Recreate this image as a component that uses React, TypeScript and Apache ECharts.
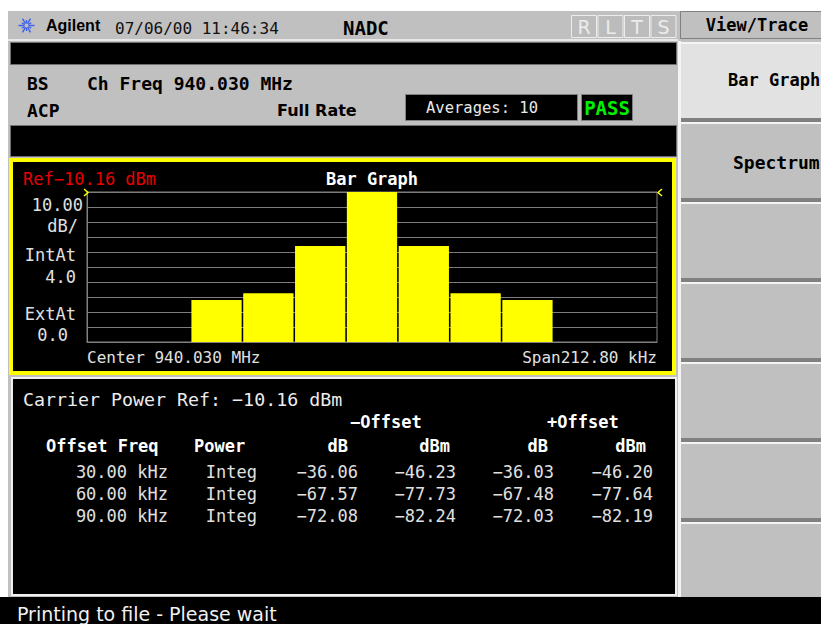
import React, { useEffect, useRef } from "react";
import * as echarts from "echarts";

// ---- data ----
const carrierRefDbm = -10.16;
const dbPerDiv = 10;
const divisions = 10;
const offsetCategories = ["-150", "-120", "-90", "-60", "-30", "0", "30", "60", "90", "120", "150"];
const offsetFreqLabels = ["30.00 kHz", "60.00 kHz", "90.00 kHz"];
const powerModes = ["Integ", "Integ", "Integ"];
const negOffsetDb = [-36.06, -67.57, -72.08];
const negOffsetDbm = [-46.23, -77.73, -82.24];
const posOffsetDb = [-36.03, -67.48, -72.03];
const posOffsetDbm = [-46.2, -77.64, -82.19];
const yTickLabels = ["10.00", "dB/", "IntAt", "4.0", "ExtAt", "0.0"];

const MONO = '"DejaVu Sans Mono", monospace';
const SANS = '"DejaVu Sans", sans-serif';

function txt(text: string, x: number, y: number, font: string, fill: string, align = "left") {
  return {
    type: "text",
    x,
    y,
    z: 10,
    silent: true,
    style: { text, font, fill, align, verticalAlign: "middle" },
  };
}
function rect(x: number, y: number, w: number, h: number, style: any, z = -5) {
  return { type: "rect", z, silent: true, shape: { x, y, width: w, height: h }, style };
}
const fmt = (v: number) => v.toFixed(2).replace("-", "\u2212");

export default function App() {
  const ref = useRef<HTMLDivElement>(null);
  useEffect(() => {
    if (!ref.current) return;
    const chart = echarts.init(ref.current, null, { renderer: "svg" });
    const bottomDbm = carrierRefDbm - dbPerDiv * divisions;
    const barDbm: (number | null)[] = [
      null,
      null,
      ...[...negOffsetDbm].reverse(),
      carrierRefDbm,
      ...posOffsetDbm,
      null,
      null,
    ];
    const barHeights = barDbm.map((v) => (v == null ? null : +(v - bottomDbm).toFixed(2)));

    const g: any[] = [];
    // backgrounds
    g.push(rect(8, 11, 813, 586, { fill: "#c0c0c0" }, -9));
    g.push(rect(8, 39, 670, 2, { fill: "#e8e8e8" }, -8));
    g.push(rect(10.5, 42.5, 666, 22, { fill: "#000", stroke: "#707070", lineWidth: 1 }, -7));
    g.push(rect(10.5, 125.5, 666, 31, { fill: "#000", stroke: "#707070", lineWidth: 1 }, -7));
    g.push(rect(11, 160, 663, 213, { fill: "#000", stroke: "#ffff00", lineWidth: 4 }, -7));
    g.push(rect(12, 378, 664, 217, { fill: "#000", stroke: "#f0f0f0", lineWidth: 2 }, -7));
    g.push(rect(0, 597, 821, 27, { fill: "#000" }, -6));
    // softkey column
    g.push(rect(678, 41, 3, 556, { fill: "#f4f4f4" }, -8));
    g.push(rect(680.5, 11.5, 141, 27, { fill: "#c0c0c0", stroke: "#808080", lineWidth: 1 }, -7));
    for (let i = 0; i < 7; i++) {
      const top = 44 + i * 80;
      g.push(rect(681, top - 2, 140, 2, { fill: "#f4f4f4" }, -7));
      g.push(rect(681, top, 140, 74, { fill: i === 0 ? "#e2e2e2" : "#c0c0c0" }, -7));
      g.push(rect(681, top + 74, 140, 5, { fill: "#808080" }, -7));
    }
    // Averages and PASS boxes
    g.push(rect(405.5, 94.5, 172, 26, { fill: "#000", stroke: "#808080", lineWidth: 1 }, -6));
    g.push(rect(581.5, 94.5, 51, 26, { fill: "#000", stroke: "#808080", lineWidth: 1 }, -6));
    // RLTS boxes
    ["R", "L", "T", "S"].forEach((s, i) => {
      const x0 = 571 + i * 26.5;
      g.push(rect(x0 + 0.5, 15.5, 25, 22, { fill: "#bcbcbc", stroke: "#ececec", lineWidth: 1 }, -6));
      g.push(txt(s, x0 + 13, 27, `19px ${SANS}`, "#ececec", "center"));
    });
    // Agilent starburst
    for (let k = 0; k < 12; k++) {
      const a = (k * Math.PI) / 6;
      const r = k % 2 === 0 ? 8 : 5.5;
      g.push({
        type: "line",
        z: 5,
        silent: true,
        shape: { x1: 26.5 + Math.cos(a) * 2, y1: 25.5 + Math.sin(a) * 2, x2: 26.5 + Math.cos(a) * r, y2: 25.5 + Math.sin(a) * r },
        style: { stroke: "#3a5cf0", lineWidth: 1.4 },
      });
    }
    // top band texts
    g.push(txt("Agilent", 46, 25, `bold 16px "Liberation Sans", sans-serif`, "#000"));
    g.push(txt("07/06/00 11:46:34", 115, 28, `16px ${MONO}`, "#111"));
    g.push(txt("NADC", 343, 28, `bold 19px ${MONO}`, "#000"));
    g.push(txt("View/Trace", 757, 25, `bold 17px ${MONO}`, "#000", "center"));
    // info texts
    g.push(txt("BS", 27, 83, `bold 18px ${MONO}`, "#000"));
    g.push(txt("Ch Freq 940.030 MHz", 87, 83, `bold 18px ${MONO}`, "#000"));
    g.push(txt("ACP", 27, 110, `bold 18px ${MONO}`, "#000"));
    g.push(txt("Full Rate", 277, 110, `bold 16px ${SANS}`, "#000"));
    g.push(txt("Averages: 10", 482, 108, `15.5px ${MONO}`, "#e8e8e8", "center"));
    g.push(txt("PASS", 607, 108, `bold 19px ${MONO}`, "#00f000", "center"));
    // softkey labels
    g.push(txt("Bar Graph", 728, 80, `bold 17px ${MONO}`, "#000"));
    g.push(txt("Spectrum", 733, 162, `bold 18px ${MONO}`, "#000"));
    // chart area texts
    g.push(txt(`Ref${fmt(carrierRefDbm)} dBm`, 23, 179, `17px ${MONO}`, "#e80000"));
    g.push(txt("Bar Graph", 372, 179, `bold 17px ${MONO}`, "#ffffff", "center"));
    const yl = [
      [83, 205],
      [78, 226],
      [76, 255],
      [76, 277],
      [76, 314],
      [68, 335],
    ];
    yTickLabels.forEach((s, i) => g.push(txt(s, yl[i][0], yl[i][1], `17px ${MONO}`, "#e0e0e0", "right")));
    g.push(txt("Center 940.030 MHz", 87, 357, `16px ${MONO}`, "#e0e0e0"));
    g.push(txt("Span212.80 kHz", 657, 357, `16px ${MONO}`, "#e0e0e0", "right"));
    // chevrons
    g.push({ type: "polyline", z: 10, silent: true, shape: { points: [[84, 189], [88, 192.5], [84, 196]] }, style: { stroke: "#ffff00", lineWidth: 1.5, fill: null } });
    g.push({ type: "polyline", z: 10, silent: true, shape: { points: [[662, 189], [658, 192.5], [662, 196]] }, style: { stroke: "#ffff00", lineWidth: 1.5, fill: null } });
    // table texts
    g.push(txt(`Carrier Power Ref: ${fmt(carrierRefDbm)} dBm`, 23, 399, `18.3px ${MONO}`, "#ececec"));
    g.push(txt("\u2212Offset", 350, 422, `bold 17px ${MONO}`, "#ffffff"));
    g.push(txt("+Offset", 547, 422, `bold 17px ${MONO}`, "#ffffff"));
    g.push(txt("Offset Freq", 46, 446, `bold 17px ${MONO}`, "#ffffff"));
    g.push(txt("Power", 194, 446, `bold 17px ${MONO}`, "#ffffff"));
    g.push(txt("dB", 348, 446, `bold 17px ${MONO}`, "#ffffff", "right"));
    g.push(txt("dBm", 450, 446, `bold 17px ${MONO}`, "#ffffff", "right"));
    g.push(txt("dB", 548, 446, `bold 17px ${MONO}`, "#ffffff", "right"));
    g.push(txt("dBm", 646, 446, `bold 17px ${MONO}`, "#ffffff", "right"));
    offsetFreqLabels.forEach((f, i) => {
      const y = 472 + i * 22;
      const c = "#e0e0e0";
      const font = `17px ${MONO}`;
      g.push(txt(f, 168, y, font, c, "right"));
      g.push(txt(powerModes[i], 257, y, font, c, "right"));
      g.push(txt(fmt(negOffsetDb[i]), 358, y, font, c, "right"));
      g.push(txt(fmt(negOffsetDbm[i]), 456, y, font, c, "right"));
      g.push(txt(fmt(posOffsetDb[i]), 554, y, font, c, "right"));
      g.push(txt(fmt(posOffsetDbm[i]), 653, y, font, c, "right"));
    });
    g.push(txt("Printing to file - Please wait", 17, 614, `19px ${SANS}`, "#f0f0f0"));

    chart.setOption({
      animation: false,
      backgroundColor: "#ffffff",
      grid: {
        left: 87,
        top: 192,
        width: 570,
        height: 150,
        show: true,
        backgroundColor: "#000",
        borderColor: "#808080",
        borderWidth: 1,
      },
      xAxis: {
        type: "category",
        data: offsetCategories,
        axisLabel: { show: false },
        axisTick: { show: false },
        axisLine: { show: true, lineStyle: { color: "#808080", width: 1 } },
        splitLine: { show: false },
      },
      yAxis: {
        type: "value",
        min: 0,
        max: dbPerDiv * divisions,
        interval: dbPerDiv,
        axisLabel: { show: false },
        axisTick: { show: false },
        axisLine: { show: true, lineStyle: { color: "#808080", width: 1 } },
        splitLine: { show: true, lineStyle: { color: "#7c7c7c", width: 1 } },
      },
      series: [
        {
          type: "bar",
          data: barHeights,
          barCategoryGap: "3%",
          itemStyle: { color: "#ffff00" },
          silent: true,
        },
      ],
      graphic: g,
    });
    return () => chart.dispose();
  }, []);
  return <div ref={ref} style={{ position: "fixed", left: 0, top: 0, width: 821, height: 624 }} />;
}
